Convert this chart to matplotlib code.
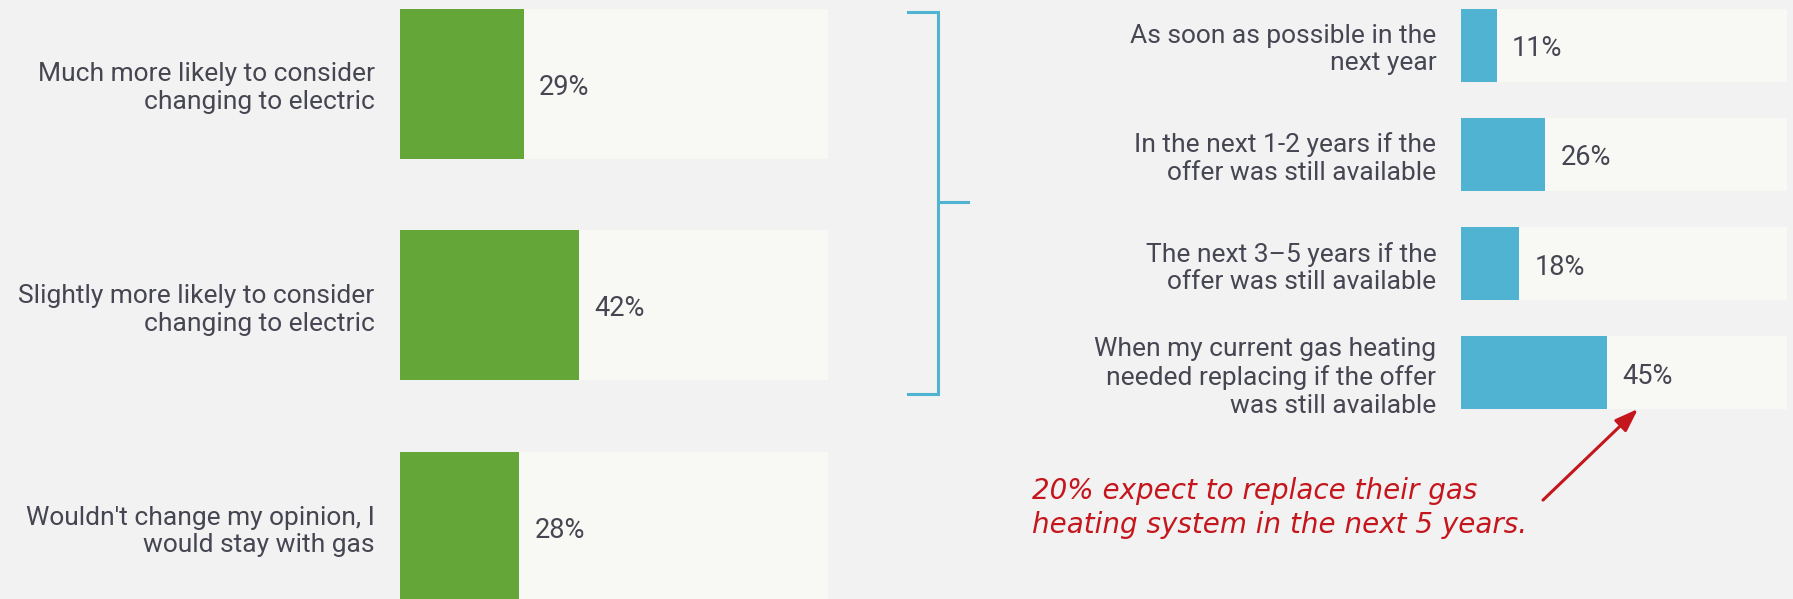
import matplotlib.pyplot as plt

# data
left_labels = ["Much more likely to consider\nchanging to electric",
               "Slightly more likely to consider\nchanging to electric",
               "Wouldn't change my opinion, I\nwould stay with gas"]
left_values = [29, 42, 28]

right_labels = ["As soon as possible in the\nnext year",
                "In the next 1-2 years if the\noffer was still available",
                "The next 3\u20135 years if the\noffer was still available",
                "When my current gas heating\nneeded replacing if the offer\nwas still available"]
right_values = [11, 26, 18, 45]

note = "20% expect to replace their gas\nheating system in the next 5 years."

BG = "#f2f2f2"
TRACK = "#f8f8f4"
GREEN = "#64a637"
BLUE = "#4fb3d1"
TXT = "#454652"
RED = "#c4161c"

plt.rcParams['font.family'] = ['Roboto', 'DejaVu Sans']

W, H = 1793, 599
fig = plt.figure(figsize=(W / 100, H / 100), dpi=100, facecolor=BG)


def px_axes(x0, x1):
    return fig.add_axes([x0 / W, 0, (x1 - x0) / W, 1])


def panel(ax, labels, values, color, height, ylim, pad):
    ax.set_facecolor("none")
    ys = list(range(len(values)))
    ax.barh(ys, [100] * len(values), height=height, color=TRACK)
    ax.barh(ys, values, height=height, color=color)
    for y, v in zip(ys, values):
        ax.annotate(f"{v}%", (v, y), xytext=(11, -2.5), textcoords="offset points",
                    va="center", ha="left", fontsize=19.5, color=TXT)
    ax.set_xlim(0, 100)
    ax.set_ylim(*ylim)
    ax.set_yticks(ys)
    ax.set_yticklabels(labels, fontsize=19, color=TXT, multialignment="right",
                       linespacing=1.2)
    ax.tick_params(axis="y", length=0, pad=pad)
    ax.set_xticks([])
    for s in ax.spines.values():
        s.set_visible(False)


axl = px_axes(399.5, 828)
panel(axl, left_labels, left_values, GREEN, 0.677, (2.325, -0.379), 18)

axr = px_axes(1460.6, 1787)
panel(axr, right_labels, right_values, BLUE, 0.668, (5.07, -0.412), 17.5)

# overlay in pixel coordinates for bracket and note
ov = fig.add_axes([0, 0, 1, 1])
ov.set_xlim(0, W)
ov.set_ylim(H, 0)
ov.axis("off")
ov.patch.set_visible(False)
ov.plot([908, 938, 938, 908], [12, 12, 394, 394], color=BLUE, lw=2.2,
        solid_joinstyle="miter")
ov.plot([938, 968], [202, 202], color=BLUE, lw=2.2)

ov.text(1032, 508, note, color=RED, fontsize=20, style="italic",
        va="center", ha="left", linespacing=1.25, family=['DejaVu Sans'])
ov.annotate("", xy=(1640, 407), xytext=(1541, 502),
            arrowprops=dict(arrowstyle="-|>,head_length=1.4,head_width=0.5",
                            color=RED, lw=2.2))

fig.savefig("out.png", dpi=100, facecolor=BG)
